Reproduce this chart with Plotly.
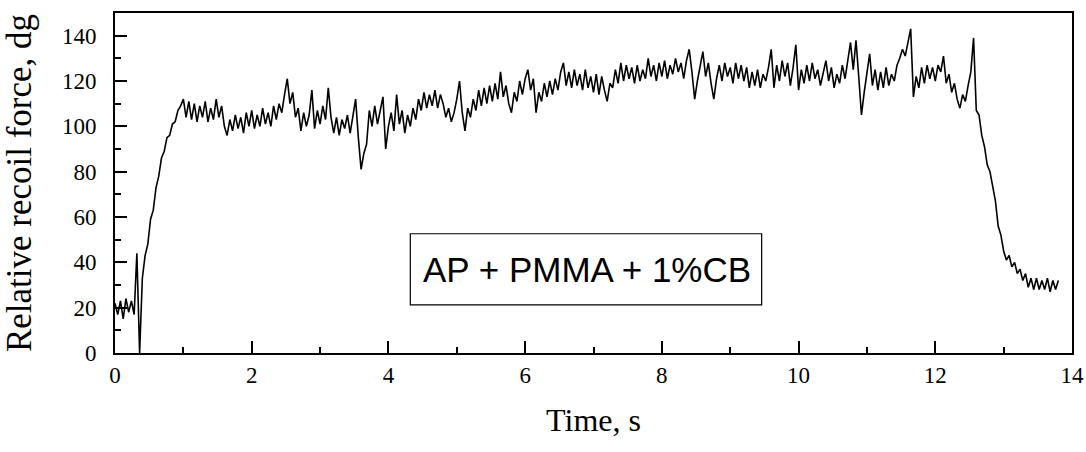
import numpy as np
import plotly.graph_objects as go

# sampling: one reading every 0.04 s from 0 to 13.80 s
dt = 0.04
force_s0 = [22, 17, 23, 15, 24, 18, 23, 17, 44, 0, 33, 43, 48, 59, 63, 73, 78, 86, 89, 95, 96, 101, 102, 107, 109]
force_s1 = [112, 104, 111, 103, 110, 102, 109, 104, 111, 102, 108, 103, 112, 104, 109, 100, 96, 103, 98, 105, 99, 104, 97, 106, 100]
force_s2 = [107, 99, 105, 100, 108, 101, 106, 100, 109, 103, 110, 106, 114, 121, 110, 115, 104, 108, 98, 106, 100, 105, 116, 99, 107]
force_s3 = [101, 109, 103, 117, 104, 97, 104, 96, 103, 99, 105, 97, 104, 112, 95, 81, 88, 92, 107, 100, 109, 101, 107, 113, 90]
force_s4 = [100, 106, 98, 114, 101, 107, 97, 105, 100, 108, 103, 112, 107, 115, 108, 114, 109, 116, 108, 114, 110, 104, 108, 102, 106]
force_s5 = [112, 120, 106, 98, 108, 104, 112, 107, 116, 109, 117, 110, 118, 111, 119, 112, 124, 113, 118, 110, 106, 115, 111, 120, 114]
force_s6 = [121, 125, 116, 121, 106, 115, 111, 119, 113, 120, 114, 121, 116, 124, 128, 118, 124, 117, 125, 118, 123, 116, 125, 117, 122]
force_s7 = [115, 123, 114, 122, 116, 111, 119, 117, 125, 119, 128, 120, 127, 121, 126, 119, 127, 120, 125, 121, 130, 122, 127, 120, 128]
force_s8 = [122, 129, 121, 127, 123, 130, 124, 128, 121, 129, 134, 124, 112, 120, 127, 133, 122, 128, 119, 112, 121, 127, 120, 128, 122]
force_s9 = [126, 119, 128, 121, 127, 120, 126, 117, 124, 118, 125, 117, 123, 120, 126, 134, 117, 127, 120, 129, 122, 128, 118, 126, 136]
force_s10 = [116, 125, 119, 127, 120, 128, 121, 125, 118, 124, 129, 120, 126, 117, 123, 119, 127, 121, 130, 137, 125, 138, 122, 105, 115]
force_s11 = [124, 132, 118, 125, 116, 124, 117, 126, 118, 123, 120, 127, 130, 134, 131, 137, 143, 113, 122, 117, 126, 119, 127, 121, 126]
force_s12 = [120, 127, 124, 131, 119, 123, 115, 119, 112, 108, 114, 111, 118, 124, 139, 107, 105, 96, 91, 83, 80, 73, 67, 56, 52]
force_s13 = [45, 41, 43, 38, 40, 35, 37, 32, 35, 29, 33, 28, 33, 28, 32, 28, 33, 27, 32, 28, 32]

force = (force_s0 + force_s1 + force_s2 + force_s3 + force_s4 + force_s5 + force_s6
         + force_s7 + force_s8 + force_s9 + force_s10 + force_s11 + force_s12 + force_s13)
time = np.round(np.arange(len(force)) * dt, 2)

x_ticks = [0, 2, 4, 6, 8, 10, 12, 14]
y_ticks = [0, 20, 40, 60, 80, 100, 120, 140]
label_text = "AP + PMMA + 1%CB"

fig = go.Figure()
fig.add_trace(go.Scatter(x=time, y=force, mode="lines",
                         line=dict(color="black", width=1.6), showlegend=False))

serif = "Liberation Serif, Times New Roman, serif"
axis_font = dict(family=serif, size=23, color="black")

fig.update_xaxes(range=[0, 14], tickvals=x_ticks, ticks="inside", ticklen=12, tickwidth=2,
                 tickcolor="black", showline=True, linecolor="black", linewidth=2, mirror=True,
                 showgrid=False, zeroline=False, tickfont=axis_font, automargin=False,
                 ticklabeloverflow="allow",
                 minor=dict(dtick=1, ticks="inside", ticklen=6, tickwidth=2, tickcolor="black"),
                 title=dict(text="Time, s", font=dict(family=serif, size=32, color="black"),
                            standoff=22))
fig.update_yaxes(range=[0, 150], tickvals=y_ticks, ticks="inside", ticklen=12, tickwidth=2,
                 tickcolor="black", showline=True, linecolor="black", linewidth=2, mirror=True,
                 showgrid=False, zeroline=False, tickfont=axis_font, ticklabelstandoff=12,
                 automargin=False,
                 minor=dict(dtick=10, ticks="inside", ticklen=6, tickwidth=2, tickcolor="black"),
                 title=dict(text="Relative recoil force, dg",
                            font=dict(family=serif, size=35, color="black"), standoff=20))

fig.add_shape(type="rect", xref="x", yref="y", x0=4.32, x1=9.46, y0=21.2, y1=52.6,
              line=dict(color="black", width=1.2), fillcolor="white", layer="above")
fig.add_annotation(x=6.9, y=36.9, xref="x", yref="y", text=label_text, showarrow=False,
                   font=dict(family="Liberation Sans, Arial, sans-serif", size=35, color="black"))

fig.update_layout(width=1086, height=452, margin=dict(l=115, r=14, t=13, b=99),
                  plot_bgcolor="white", paper_bgcolor="white")

fig.write_html("out.html", config={"displayModeBar": False},
               post_script="document.body.style.margin='0';document.body.style.overflow='hidden';")
